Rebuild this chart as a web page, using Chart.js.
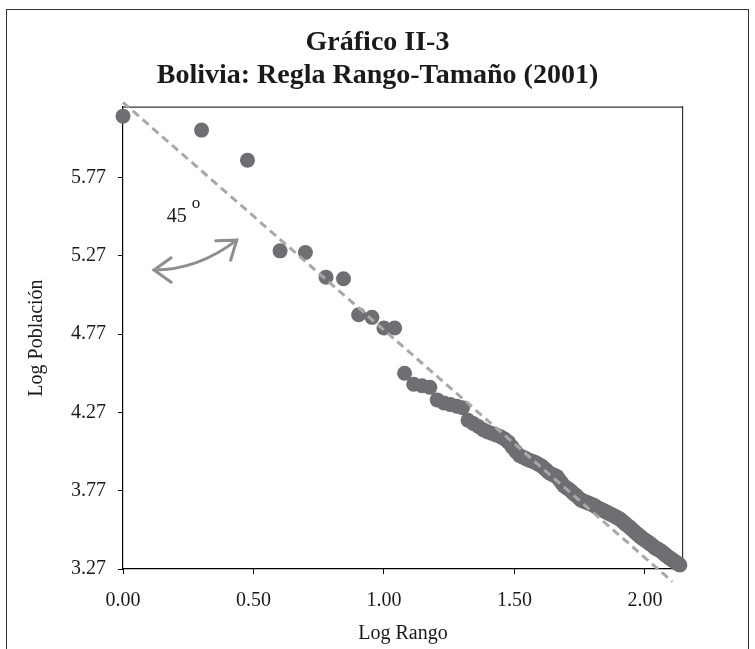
<!DOCTYPE html>
<html>
<head>
<meta charset="utf-8">
<script src="https://cdn.jsdelivr.net/npm/chart.js@4"></script>
<style>
  html, body { margin: 0; padding: 0; background: #fff; overflow: hidden; }
  #frame { position: absolute; left: 6px; top: 9px; width: 741px; height: 700px; border: 1.5px solid #333; }
  #wrap { position: absolute; left: 0; top: 0; width: 755px; height: 649px; }
</style>
</head>
<body>
<div id="frame"></div>
<div id="wrap"><canvas id="chart" width="755" height="649"></canvas></div>
<script>
// log del rango de cada ciudad
const logRango = [
  0.000, 0.301, 0.477, 0.602, 0.699, 0.778, 0.845, 0.903, 0.954, 1.000,
  1.041, 1.079, 1.114, 1.146, 1.176, 1.204, 1.230, 1.255, 1.279, 1.301,
  1.322, 1.342, 1.362, 1.380, 1.398, 1.415, 1.431, 1.447, 1.462, 1.477,
  1.491, 1.505, 1.519, 1.531, 1.544, 1.556, 1.568, 1.580, 1.591, 1.602,
  1.613, 1.623, 1.633, 1.643, 1.653, 1.663, 1.672, 1.681, 1.690, 1.699,
  1.708, 1.716, 1.724, 1.732, 1.740, 1.748, 1.756, 1.763, 1.771, 1.778,
  1.785, 1.792, 1.799, 1.806, 1.813, 1.820, 1.826, 1.833, 1.839, 1.845,
  1.851, 1.857, 1.863, 1.869, 1.875, 1.881, 1.886, 1.892, 1.898, 1.903,
  1.908, 1.914, 1.919, 1.924, 1.929, 1.934, 1.940, 1.944, 1.949, 1.954,
  1.959, 1.964, 1.968, 1.973, 1.978, 1.982, 1.987, 1.991, 1.996, 2.000,
  2.004, 2.009, 2.013, 2.017, 2.021, 2.025, 2.029, 2.033, 2.037, 2.041,
  2.045, 2.049, 2.053, 2.057, 2.061, 2.064, 2.068, 2.072, 2.076, 2.079,
  2.083, 2.086, 2.090, 2.093, 2.097, 2.100, 2.104, 2.107, 2.111, 2.114,
  2.117, 2.121, 2.124, 2.127, 2.130, 2.134
];

// log de la población
const logPoblacion = [
  6.162, 6.073, 5.881, 5.302, 5.291, 5.134, 5.124, 4.894, 4.877, 4.809,
  4.809, 4.520, 4.450, 4.440, 4.430, 4.350, 4.330, 4.320, 4.310, 4.300,
  4.220, 4.200, 4.180, 4.160, 4.145, 4.135, 4.125, 4.115, 4.100, 4.080,
  4.050, 4.020, 3.995, 3.985, 3.975, 3.965, 3.958, 3.950, 3.940, 3.930,
  3.915, 3.900, 3.885, 3.875, 3.868, 3.860, 3.840, 3.820, 3.800, 3.790,
  3.780, 3.770, 3.755, 3.745, 3.735, 3.720, 3.710, 3.705, 3.700, 3.695,
  3.690, 3.685, 3.680, 3.675, 3.668, 3.660, 3.655, 3.650, 3.645, 3.640,
  3.635, 3.630, 3.625, 3.620, 3.615, 3.610, 3.605, 3.600, 3.595, 3.590,
  3.583, 3.575, 3.568, 3.560, 3.553, 3.546, 3.540, 3.533, 3.525, 3.518,
  3.510, 3.503, 3.497, 3.490, 3.483, 3.477, 3.470, 3.465, 3.460, 3.455,
  3.450, 3.445, 3.440, 3.435, 3.430, 3.425, 3.420, 3.414, 3.408, 3.403,
  3.400, 3.397, 3.393, 3.390, 3.385, 3.380, 3.375, 3.370, 3.365, 3.360,
  3.355, 3.350, 3.346, 3.342, 3.338, 3.334, 3.330, 3.326, 3.322, 3.318,
  3.314, 3.310, 3.307, 3.304, 3.300, 3.296
];

// recta de referencia (45°)
const rectaX = [0.0, 2.105];
const rectaY = [6.25, 3.19];

const xTicks = [0, 0.5, 1.0, 1.5, 2.0];
const yTicks = [3.27, 3.77, 4.27, 4.77, 5.27, 5.77];

const FONT = "'Liberation Serif', 'Times New Roman', serif";
Chart.defaults.font.family = FONT;
Chart.defaults.color = '#1a1a1a';

// línea superior del marco + flecha y etiqueta "45 o"
const extras = {
  id: 'extras',
  beforeDatasetsDraw(chart) {
    const a = chart.chartArea, ctx = chart.ctx;
    ctx.save();
    ctx.strokeStyle = '#333';
    ctx.lineWidth = 1.2;
    ctx.beginPath();
    ctx.moveTo(a.left, a.top);
    ctx.lineTo(a.right, a.top);
    ctx.stroke();
    ctx.restore();
  },
  afterDatasetsDraw(chart) {
    const ctx = chart.ctx, sx = chart.scales.x, sy = chart.scales.y;
    const P = (x, y) => [sx.getPixelForValue(x), sy.getPixelForValue(y)];
    const p0 = P(0.119, 5.179), c = P(0.287, 5.180), p2 = P(0.436, 5.370);
    ctx.save();
    ctx.strokeStyle = '#8e8e8e';
    ctx.lineWidth = 3;
    ctx.lineCap = 'round';
    ctx.beginPath();
    ctx.moveTo(p0[0], p0[1]);
    ctx.quadraticCurveTo(c[0], c[1], p2[0], p2[1]);
    ctx.stroke();
    const head = (tip, from) => {
      const ang = Math.atan2(from[1] - tip[1], from[0] - tip[0]);
      const L = 21, spread = 0.62;
      ctx.beginPath();
      ctx.moveTo(tip[0] + L * Math.cos(ang + spread), tip[1] + L * Math.sin(ang + spread));
      ctx.lineTo(tip[0], tip[1]);
      ctx.lineTo(tip[0] + L * Math.cos(ang - spread), tip[1] + L * Math.sin(ang - spread));
      ctx.stroke();
    };
    head(p0, c);
    head(p2, c);
    const t = P(0.168, 5.487);
    ctx.fillStyle = '#1a1a1a';
    ctx.textBaseline = 'alphabetic';
    ctx.font = '20px ' + FONT;
    ctx.fillText('45', t[0], t[1]);
    ctx.font = '17px ' + FONT;
    ctx.fillText('o', t[0] + 25, t[1] - 14);
    ctx.restore();
  }
};

const scatterPts = logRango.map((x, i) => ({ x, y: logPoblacion[i] }));
const linePts = rectaX.map((x, i) => ({ x, y: rectaY[i] }));

new Chart(document.getElementById('chart'), {
  type: 'scatter',
  data: {
    datasets: [
      {
        type: 'line',
        label: '45°',
        data: linePts,
        borderColor: '#a8a8a8',
        borderWidth: 3,
        borderDash: [8, 5],
        pointRadius: 0,
        fill: false,
        clip: false,
        order: 0,
      },
      {
        label: 'Ciudades',
        data: scatterPts,
        backgroundColor: '#6f6f73',
        borderWidth: 0,
        pointRadius: 7.5,
        pointHoverRadius: 7.5,
        clip: false,
        order: 1,
      },
    ],
  },
  options: {
    responsive: false,
    animation: false,
    devicePixelRatio: 1,
    layout: { padding: 0 },
    plugins: {
      legend: { display: false },
      tooltip: { enabled: false },
      title: {
        display: true,
        text: ['Gráfico II-3', 'Bolivia: Regla Rango-Tamaño (2001)'],
        color: '#1a1a1a',
        font: { size: 28, weight: 'bold', lineHeight: 1.18 },
        padding: { top: 26.5, bottom: 14.5 },
      },
    },
    scales: {
      x: {
        type: 'linear',
        min: 0,
        max: 2.146,
        afterBuildTicks: s => { s.ticks = xTicks.map(v => ({ value: v })); },
        afterFit: s => { s.height = 80; },
        ticks: { callback: v => Number(v).toFixed(2), font: { size: 20 }, padding: 15, maxRotation: 0 },
        grid: { drawOnChartArea: false, drawTicks: true, tickLength: 5, color: '#000' },
        border: { display: true, color: '#000', width: 1.2 },
        title: { display: true, text: 'Log Rango', font: { size: 20 }, padding: { top: 0, bottom: 3 } },
      },
      y: {
        type: 'linear',
        min: 3.27,
        max: 6.22,
        afterBuildTicks: s => { s.ticks = yTicks.map(v => ({ value: v })); },
        afterFit: s => { s.width = 123; },
        ticks: { callback: v => Number(v).toFixed(2), font: { size: 20 }, padding: 12 },
        grid: { drawOnChartArea: false, drawTicks: true, tickLength: 5, color: '#000' },
        border: { display: true, color: '#000', width: 1.2 },
        title: { display: true, text: 'Log Población', font: { size: 20 }, padding: { top: 25, bottom: 0 } },
      },
      // eje derecho sin etiquetas: cierra el marco del gráfico
      yRight: {
        type: 'linear',
        position: 'right',
        min: 3.27,
        max: 6.22,
        afterFit: s => { s.width = 72; },
        ticks: { display: false },
        grid: { display: false, drawOnChartArea: false },
        border: { display: true, color: '#333', width: 1.2 },
      },
    },
  },
  plugins: [extras],
});
</script>
</body>
</html>
